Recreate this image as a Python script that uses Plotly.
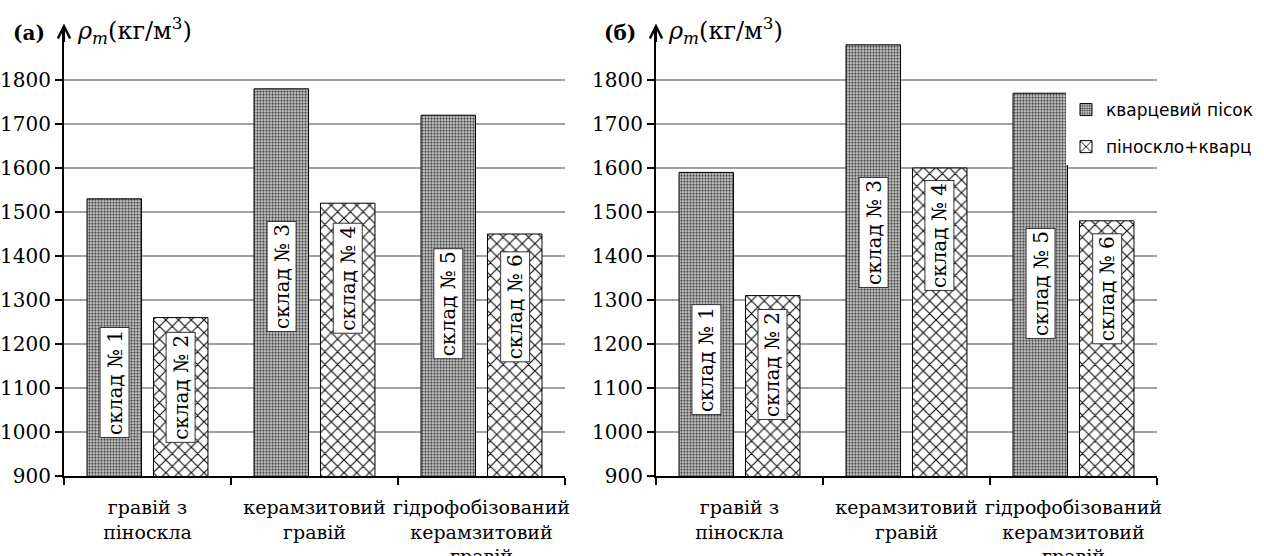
import plotly.graph_objects as go

# ---- data ----
categories = ["гравій з<br>піноскла", "керамзитовий<br>гравій",
              "гідрофобізований<br>керамзитовий<br>гравій"]
series_names = ["кварцевий пісок", "піноскло+кварц"]
quartz_a = [1530, 1780, 1720]
foam_a = [1260, 1520, 1450]
quartz_b = [1590, 1880, 1770]
foam_b = [1310, 1600, 1480]
sample_labels = ["склад № 1", "склад № 2", "склад № 3",
                 "склад № 4", "склад № 5", "склад № 6"]
label_pos_a = [1112, 1102, 1353, 1350, 1291, 1285]
label_pos_b = [1164, 1154, 1453, 1447, 1337, 1326]
y_ticks = [900, 1000, 1100, 1200, 1300, 1400, 1500, 1600, 1700, 1800]
panel_tags = ["(а)", "(б)"]
y_title = "<i>ρ<sub>m</sub></i>(кг/м<sup>3</sup>)"

W, H = 1264, 556
SERIF = "DejaVu Serif"
SANS = "DejaVu Sans"
BARGAP = 0.204
BARGROUPGAP = 0.18
half = (1 - BARGAP) / 4  # center offset of each bar within a group


def px_x(p):  # pixel -> paper fraction
    return p / W


def px_y(p):
    return (H - p) / H


dark_marker = dict(
    color="#8a8a8a",
    line=dict(color="black", width=1),
    pattern=dict(shape=".", fgcolor="#333333", bgcolor="#c4c4c4",
                 size=3, solidity=0.4, fillmode="replace"),
)
hatch_marker = dict(
    color="white",
    line=dict(color="black", width=1),
    pattern=dict(shape="x", fgcolor="#111111", bgcolor="white",
                 size=9, solidity=0.24, fillmode="replace"),
)

xs = list(range(len(categories)))
fig = go.Figure()
panels = [
    ("x", "y", quartz_a, foam_a, label_pos_a, False),
    ("x2", "y2", quartz_b, foam_b, label_pos_b, True),
]
for xa, ya, q, f, lp, show in panels:
    fig.add_trace(go.Bar(x=xs, y=q, name=series_names[0], xaxis=xa, yaxis=ya,
                         marker=dark_marker, offsetgroup="1", legendgroup="q",
                         showlegend=show))
    fig.add_trace(go.Bar(x=xs, y=f, name=series_names[1], xaxis=xa, yaxis=ya,
                         marker=hatch_marker, offsetgroup="2", legendgroup="f",
                         showlegend=show))

annotations = []
for xa, ya, q, f, lp, show in panels:
    for i in xs:
        for s, sign in enumerate((-1, 1)):
            k = 2 * i + s
            annotations.append(dict(
                x=i + sign * half, y=lp[k], xref=xa, yref=ya,
                text=sample_labels[k], textangle=-90, showarrow=False,
                font=dict(family=SERIF, size=20, color="black"),
                bgcolor="white", bordercolor="#333333", borderwidth=1,
                borderpad=2, xanchor="center", yanchor="middle",
            ))

left_dom = [px_x(64), px_x(565)]
right_dom = [px_x(656), px_x(1157)]
y_dom = [px_y(476), px_y(27.2)]

for tag, title, x0, xa in ((panel_tags[0], y_title, 65, "x"),
                           (panel_tags[1], y_title, 656, "x2")):
    annotations.append(dict(x=px_x(x0 - 36), y=px_y(33), xref="paper", yref="paper",
                            text="<b>" + tag + "</b>", showarrow=False,
                            font=dict(family=SERIF, size=20, color="black"),
                            xanchor="center", yanchor="middle"))
    annotations.append(dict(x=px_x(x0 + 10), y=px_y(30), xref="paper", yref="paper",
                            text=title, showarrow=False,
                            font=dict(family=SERIF, size=24, color="black"),
                            xanchor="left", yanchor="middle"))
    yr = "y domain" if xa == "x" else "y2 domain"
    annotations.append(dict(x=0, y=1.008, xref=xa + " domain", yref=yr,
                            ax=0, ay=20, axref="pixel", ayref="pixel",
                            text="", showarrow=True, arrowhead=5, arrowsize=1.2,
                            arrowwidth=2, arrowcolor="black", standoff=0))


def xaxis(dom, anchor):
    return dict(domain=dom, anchor=anchor, range=[-0.5, 2.5], automargin=False,
                tickvals=xs, ticktext=categories, ticks="", tickangle=0,
                tickfont=dict(family=SERIF, size=19, color="black"),
                showline=True, linecolor="black", linewidth=2,
                showgrid=False, zeroline=False, fixedrange=True,
                ticklabelstandoff=13,
                minor=dict(tickvals=[-0.5, 0.5, 1.5, 2.5], ticks="outside",
                           ticklen=7, tickwidth=1.5, tickcolor="black",
                           showgrid=False))


def yaxis(anchor):
    return dict(domain=y_dom, anchor=anchor, range=[900, 1920], automargin=False,
                tickvals=y_ticks, ticks="outside", ticklen=7, tickwidth=1.5,
                tickcolor="black", showline=True, linecolor="black",
                linewidth=2, gridcolor="#a0a0a0", gridwidth=1.5,
                zeroline=False, tickfont=dict(family=SERIF, size=20, color="black"))


fig.update_layout(
    width=W, height=H,
    margin=dict(l=0, r=0, t=0, b=0, autoexpand=False),
    paper_bgcolor="white", plot_bgcolor="white",
    barmode="group", bargap=BARGAP, bargroupgap=BARGROUPGAP,
    xaxis=xaxis(left_dom, "y"), yaxis=yaxis("x"),
    xaxis2=xaxis(right_dom, "y2"), yaxis2=yaxis("x2"),
    showlegend=True,
    legend=dict(x=px_x(1066), y=px_y(92), xanchor="left", yanchor="top",
                bgcolor="white", font=dict(family=SANS, size=17, color="black"),
                tracegroupgap=12, itemwidth=30),
    annotations=annotations,
)

fig.write_html("out.html", config={"displayModeBar": False},
               post_script="document.body.style.margin='0';"
                           "document.body.style.overflow='hidden';")
